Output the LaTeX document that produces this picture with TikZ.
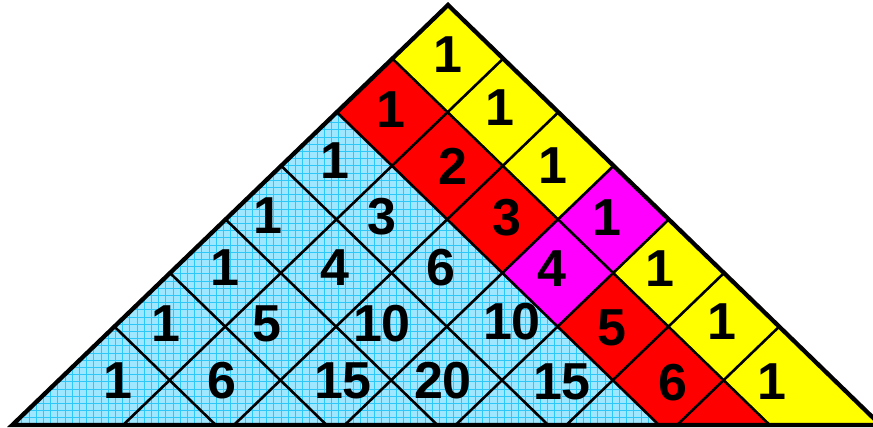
\documentclass[tikz,border=0pt]{standalone}
\usepackage{fontspec}
\setmainfont{Liberation Sans}
\definecolor{yellowc}{RGB}{255,255,0}
\definecolor{redc}{RGB}{255,0,0}
\definecolor{magc}{RGB}{255,0,255}
\definecolor{bluebg}{RGB}{158,231,255}
\definecolor{bluegrid}{RGB}{45,200,248}
\begin{document}
\begin{tikzpicture}[x=1pt,y=-1pt,
  num/.style={inner sep=0pt, font=\fontsize{52}{60}\selectfont\bfseries},
  gridline/.style={line width=2.6pt, black},
  border/.style={line width=4.3pt, black, line join=miter},
  paperline/.style={line width=0.6pt, bluegrid}]
\useasboundingbox (0,0) rectangle (873,428);
\def\tb{7.8358}
\foreach \a in {0,...,7}{\foreach \b in {0,...,7}{
  \coordinate (p\a-\b) at ({448-55.6*\a+55.2*\b},{5+53.6*(\a+\b)});}}
\foreach \k in {0,...,7}{
  \coordinate (ba\k) at ({448-55.6*\k+55.2*(\tb-\k)},425);
  \coordinate (bb\k) at ({448-55.6*(\tb-\k)+55.2*\k},425);}
% coloured stripes
\fill[yellowc] (p0-0) -- (ba0) -- (ba1) -- (p1-0) -- cycle;
\fill[redc] (p1-0) -- (ba1) -- (ba2) -- (p2-0) -- cycle;
\fill[magc] (p0-3) -- (p0-4) -- (p2-4) -- (p2-3) -- cycle;
% blue graph-paper region
\begin{scope}
  \clip (p2-0) -- (ba2) -- (bb0) -- cycle;
  \fill[bluebg] (0,0) rectangle (873,428);
  \foreach \x in {0,7.2,...,873}{\draw[paperline] (\x,0) -- (\x,428);}
  \foreach \y in {0,7.2,...,428}{\draw[paperline] (0,\y) -- (873,\y);}
\end{scope}
% cell lines
\foreach \k in {1,...,6}{
  \draw[gridline] (p\k-0) -- (ba\k);
  \draw[gridline] (p0-\k) -- (bb\k);}
% outline
\draw[border] (p0-0) -- (ba0) -- (bb0) -- cycle;
% numbers
\node[num] (n00) at (448,55) {1};
\node[num] (n10) at (391,110) {1};
\node[num] (n01) at (500,108) {1};
\node[num] (n20) at (335,161) {1};
\node[num] (n11) at (453,166) {2};
\node[num] (n02) at (553,166) {1};
\node[num] (n30) at (268,216) {1};
\node[num] (n21) at (382,217) {3};
\node[num] (n12) at (507,218) {3};
\node[num] (n03) at (607,218) {1};
\node[num] (n40) at (225,268) {1};
\node[num] (n31) at (335,268) {4};
\node[num] (n22) at (441,268) {6};
\node[num] (n13) at (552,269) {4};
\node[num] (n04) at (660,269) {1};
\node[num] (n50) at (166,324) {1};
\node[num] (n41) at (267,324) {5};
\node[num] (n32) at (382,324) {10};
\node[num] (n23) at (512,322) {10};
\node[num] (n14) at (612,328) {5};
\node[num] (n05) at (722,322) {1};
\node[num] (n60) at (118,381) {1};
\node[num] (n51) at (222,381) {6};
\node[num] (n42) at (343,381) {15};
\node[num] (n33) at (443,381) {20};
\node[num] (n24) at (562,382) {15};
\node[num] (n15) at (673,383) {6};
\node[num] (n06) at (772,382) {1};
\end{tikzpicture}
\end{document}
